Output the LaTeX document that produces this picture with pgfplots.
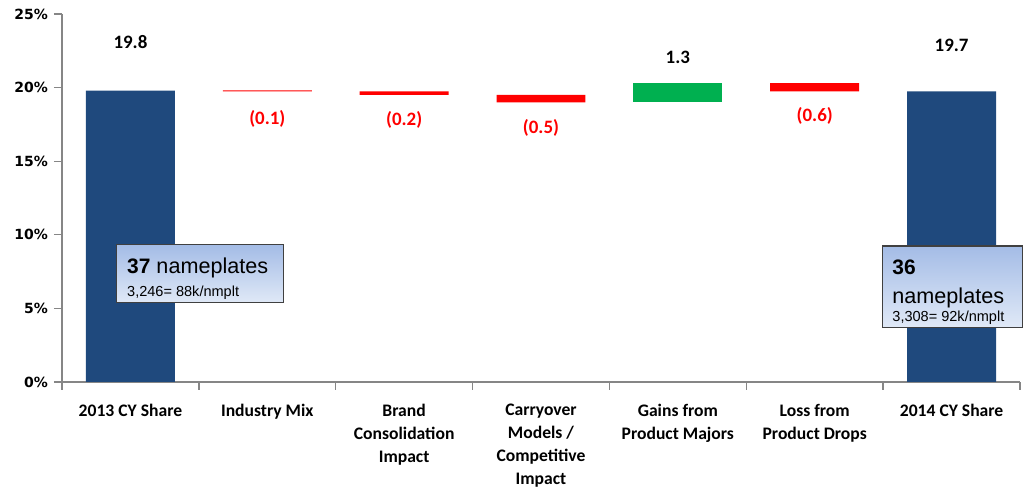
\documentclass[border=0pt]{standalone}
\usepackage{fontspec}
\setmainfont{Carlito}
\newfontfamily\arialf{Liberation Sans}
\newfontfamily\tickf{DejaVu Sans}
\usepackage{pgfplots}
\pgfplotsset{compat=1.18}
\usepackage{pgfplotstable}
\definecolor{barnavy}{RGB}{31,73,125}
\definecolor{wfred}{RGB}{255,0,0}
\definecolor{wfgreen}{RGB}{0,176,80}
\definecolor{axgray}{RGB}{134,134,134}
\definecolor{boxtop}{RGB}{164,188,230}
\definecolor{boxbot}{RGB}{224,233,247}
\pgfplotstableread{
x base navy red green
0 0 19.8 0 0
1 19.75 0 0.06 0
2 19.5 0 0.25 0
3 19.0 0 0.5 0
4 19.0 0 0 1.3
5 19.75 0 0.55 0
6 0 19.75 0 0
}\wf
\begin{document}
\begin{tikzpicture}[x=1pt,y=1pt]
\path[use as bounding box] (-46.5,-79.5) rectangle (722.25,286.5);
\begin{axis}[
  at={(0,0)}, anchor=south west,
  scale only axis, width=718.5pt, height=276pt,
  ybar stacked, bar width=0.65,
  xmin=-0.5, xmax=6.5, ymin=0, ymax=25,
  axis lines*=left,
  axis line style={axgray, line width=1.2pt},
  ytick={0,5,...,25},
  yticklabels={0\%,5\%,10\%,15\%,20\%,25\%},
  yticklabel style={font=\tickf\bfseries\fontsize{10.5}{12}\selectfont, xshift=-1pt},
  xtick={-0.5,0.5,...,6.5},
  xticklabels={},
  extra x ticks={0,1,2,3,4,5,6},
  extra x tick labels={2013 CY Share, Industry Mix, {Brand\\Consolidation\\Impact}, {Carryover\\Models /\\Competitive\\Impact}, {Gains from\\Product Majors}, {Loss from\\Product Drops}, 2014 CY Share},
  extra x tick style={major tick length=0pt, tick style={draw=none}, xticklabel style={font=\bfseries\fontsize{13.2}{17.2}\selectfont, align=center, anchor=north, yshift=-13pt}},
  tick style={axgray, line width=1pt},
  tick align=outside,
  major tick length=6pt,
  clip=false,
]
\addplot[draw=none, fill=none] table[x=x,y=base]{\wf};
\addplot[draw=none, fill=barnavy] table[x=x,y=navy]{\wf};
\addplot[draw=none, fill=wfred] table[x=x,y=red]{\wf};
\addplot[draw=none, fill=wfgreen] table[x=x,y=green]{\wf};

\node[font=\bfseries\fontsize{14.2}{15}\selectfont] at (axis cs:0,23.1) {19.8};
\node[font=\bfseries\fontsize{14.2}{15}\selectfont, text=wfred] at (axis cs:1,17.87) {(0.1)};
\node[font=\bfseries\fontsize{14.2}{15}\selectfont, text=wfred] at (axis cs:2,17.8) {(0.2)};
\node[font=\bfseries\fontsize{14.2}{15}\selectfont, text=wfred] at (axis cs:3,17.25) {(0.5)};
\node[font=\bfseries\fontsize{14.2}{15}\selectfont] at (axis cs:4,22.08) {1.3};
\node[font=\bfseries\fontsize{14.2}{15}\selectfont, text=wfred] at (axis cs:5,18.07) {(0.6)};
\node[font=\bfseries\fontsize{14.2}{15}\selectfont] at (axis cs:6,22.9) {19.7};

\coordinate (b1a) at (axis cs:-0.0985,9.31);
\coordinate (b1b) at (axis cs:1.1204,5.37);
\coordinate (t1a) at (axis cs:-0.0255,7.34);
\coordinate (t1b) at (axis cs:-0.0255,5.80);
\coordinate (b2a) at (axis cs:5.493,9.24);
\coordinate (b2b) at (axis cs:6.515,3.70);
\coordinate (t2a) at (axis cs:5.566,7.30);
\coordinate (t2b) at (axis cs:5.566,5.36);
\coordinate (t2c) at (axis cs:5.566,4.14);
\end{axis}
\path[top color=boxtop, bottom color=boxbot, draw=black!75, line width=0.8pt] (b1a) rectangle (b1b);
\node[anchor=base west, inner sep=0, font=\arialf\fontsize{16.2}{17}\selectfont] at (t1a) {{\bfseries\fontsize{15.7}{16}\selectfont 37} nameplates};
\node[anchor=base west, inner sep=0, font=\arialf\fontsize{10.9}{12}\selectfont] at (t1b) {3,246= 88k/nmplt};
\path[top color=boxtop, bottom color=boxbot, draw=black!75, line width=0.8pt] (b2a) rectangle (b2b);
\node[anchor=base west, inner sep=0, font=\arialf\bfseries\fontsize{15.7}{16}\selectfont] at (t2a) {36};
\node[anchor=base west, inner sep=0, font=\arialf\fontsize{16.2}{17}\selectfont] at (t2b) {nameplates};
\node[anchor=base west, inner sep=0, font=\arialf\fontsize{10.9}{12}\selectfont] at (t2c) {3,308= 92k/nmplt};
\end{tikzpicture}
\end{document}
